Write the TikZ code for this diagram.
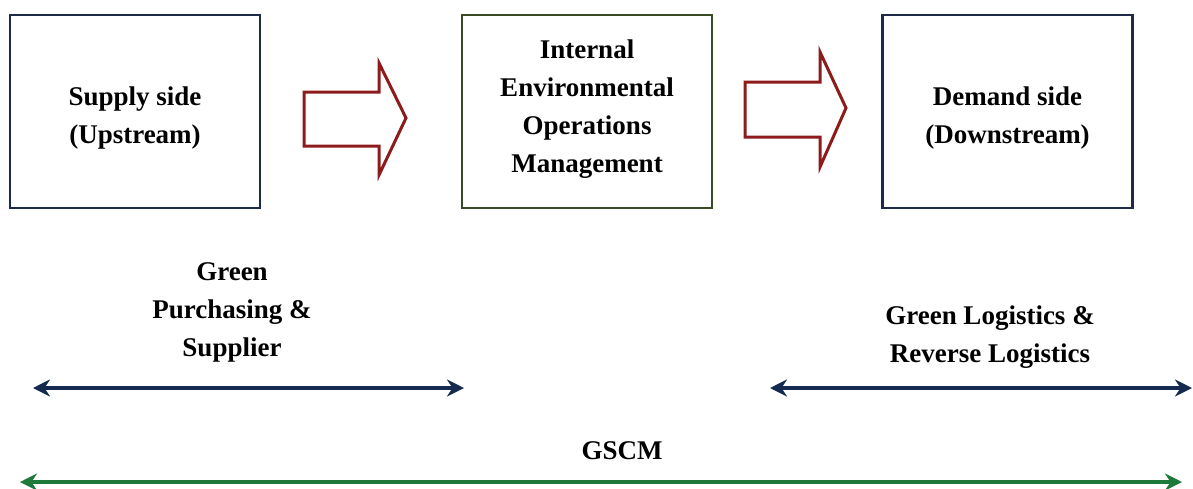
\documentclass[tikz,border=0pt]{standalone}
\usepackage{fontspec}
\setmainfont{Liberation Serif}
\usetikzlibrary{arrows.meta}
\definecolor{navy}{HTML}{1E2B48}
\definecolor{olive}{HTML}{3A4A22}
\definecolor{bred}{HTML}{8E1B1B}
\definecolor{navyarrow}{HTML}{142A4E}
\definecolor{garrow}{HTML}{1E7A3A}
\tikzset{
  box/.style={draw=navy, line width=2.8pt, minimum width=250pt, minimum height=193pt, inner sep=0pt},
  lbl/.style={font=\bfseries\fontsize{27}{38}\selectfont, align=center, text=black},
  blockarrow/.style={draw=bred, line width=3pt, line join=miter},
  span/.style={line width=3.5pt, draw=navyarrow, {Stealth[length=17pt,width=17pt]}-{Stealth[length=17pt,width=17pt]}},
  gspan/.style={line width=3.5pt, draw=garrow, {Stealth[length=17pt,width=17pt]}-{Stealth[length=17pt,width=17pt]}}
}
\begin{document}
\begin{tikzpicture}[x=1pt,y=-1pt]
\useasboundingbox (0,0) rectangle (1193,488);
\node[box] (sup) at (135,111.5) {};
\node[lbl] (supt) at (135,118) {Supply side\\(Upstream)};
\node[box, draw=olive] (int) at (587,111.5) {};
\node[lbl] (intt) at (587,109) {Internal\\Environmental\\Operations\\Management};
\node[box] (dem) at (1007.5,111.5) {};
\node[lbl] (demt) at (1007.5,118) {Demand side\\(Downstream)};
% block arrows
\draw[blockarrow] (304,92) -- (379,92) -- (379,63) -- (406,118) -- (379,175) -- (379,146) -- (304,146) -- cycle;
\draw[blockarrow] (745,82) -- (820,82) -- (820,52) -- (846,108) -- (820,167) -- (820,137) -- (745,137) -- cycle;
% labels
\node[lbl] (gp) at (232,312) {Green\\Purchasing \&\\Supplier};
\node[lbl] (gl) at (990,337) {Green Logistics \&\\Reverse Logistics};
\node[lbl] (gscm) at (622,451) {GSCM};
% spans
\coordinate (a1) at (33,388);
\coordinate (a2) at (464,388);
\coordinate (b1) at (770,388);
\coordinate (b2) at (1192,388);
\coordinate (c1) at (20,482);
\coordinate (c2) at (1182,482);
\draw[span] (a1) -- (a2);
\draw[span] (b1) -- (b2);
\draw[gspan] (c1) -- (c2);
\end{tikzpicture}
\end{document}
